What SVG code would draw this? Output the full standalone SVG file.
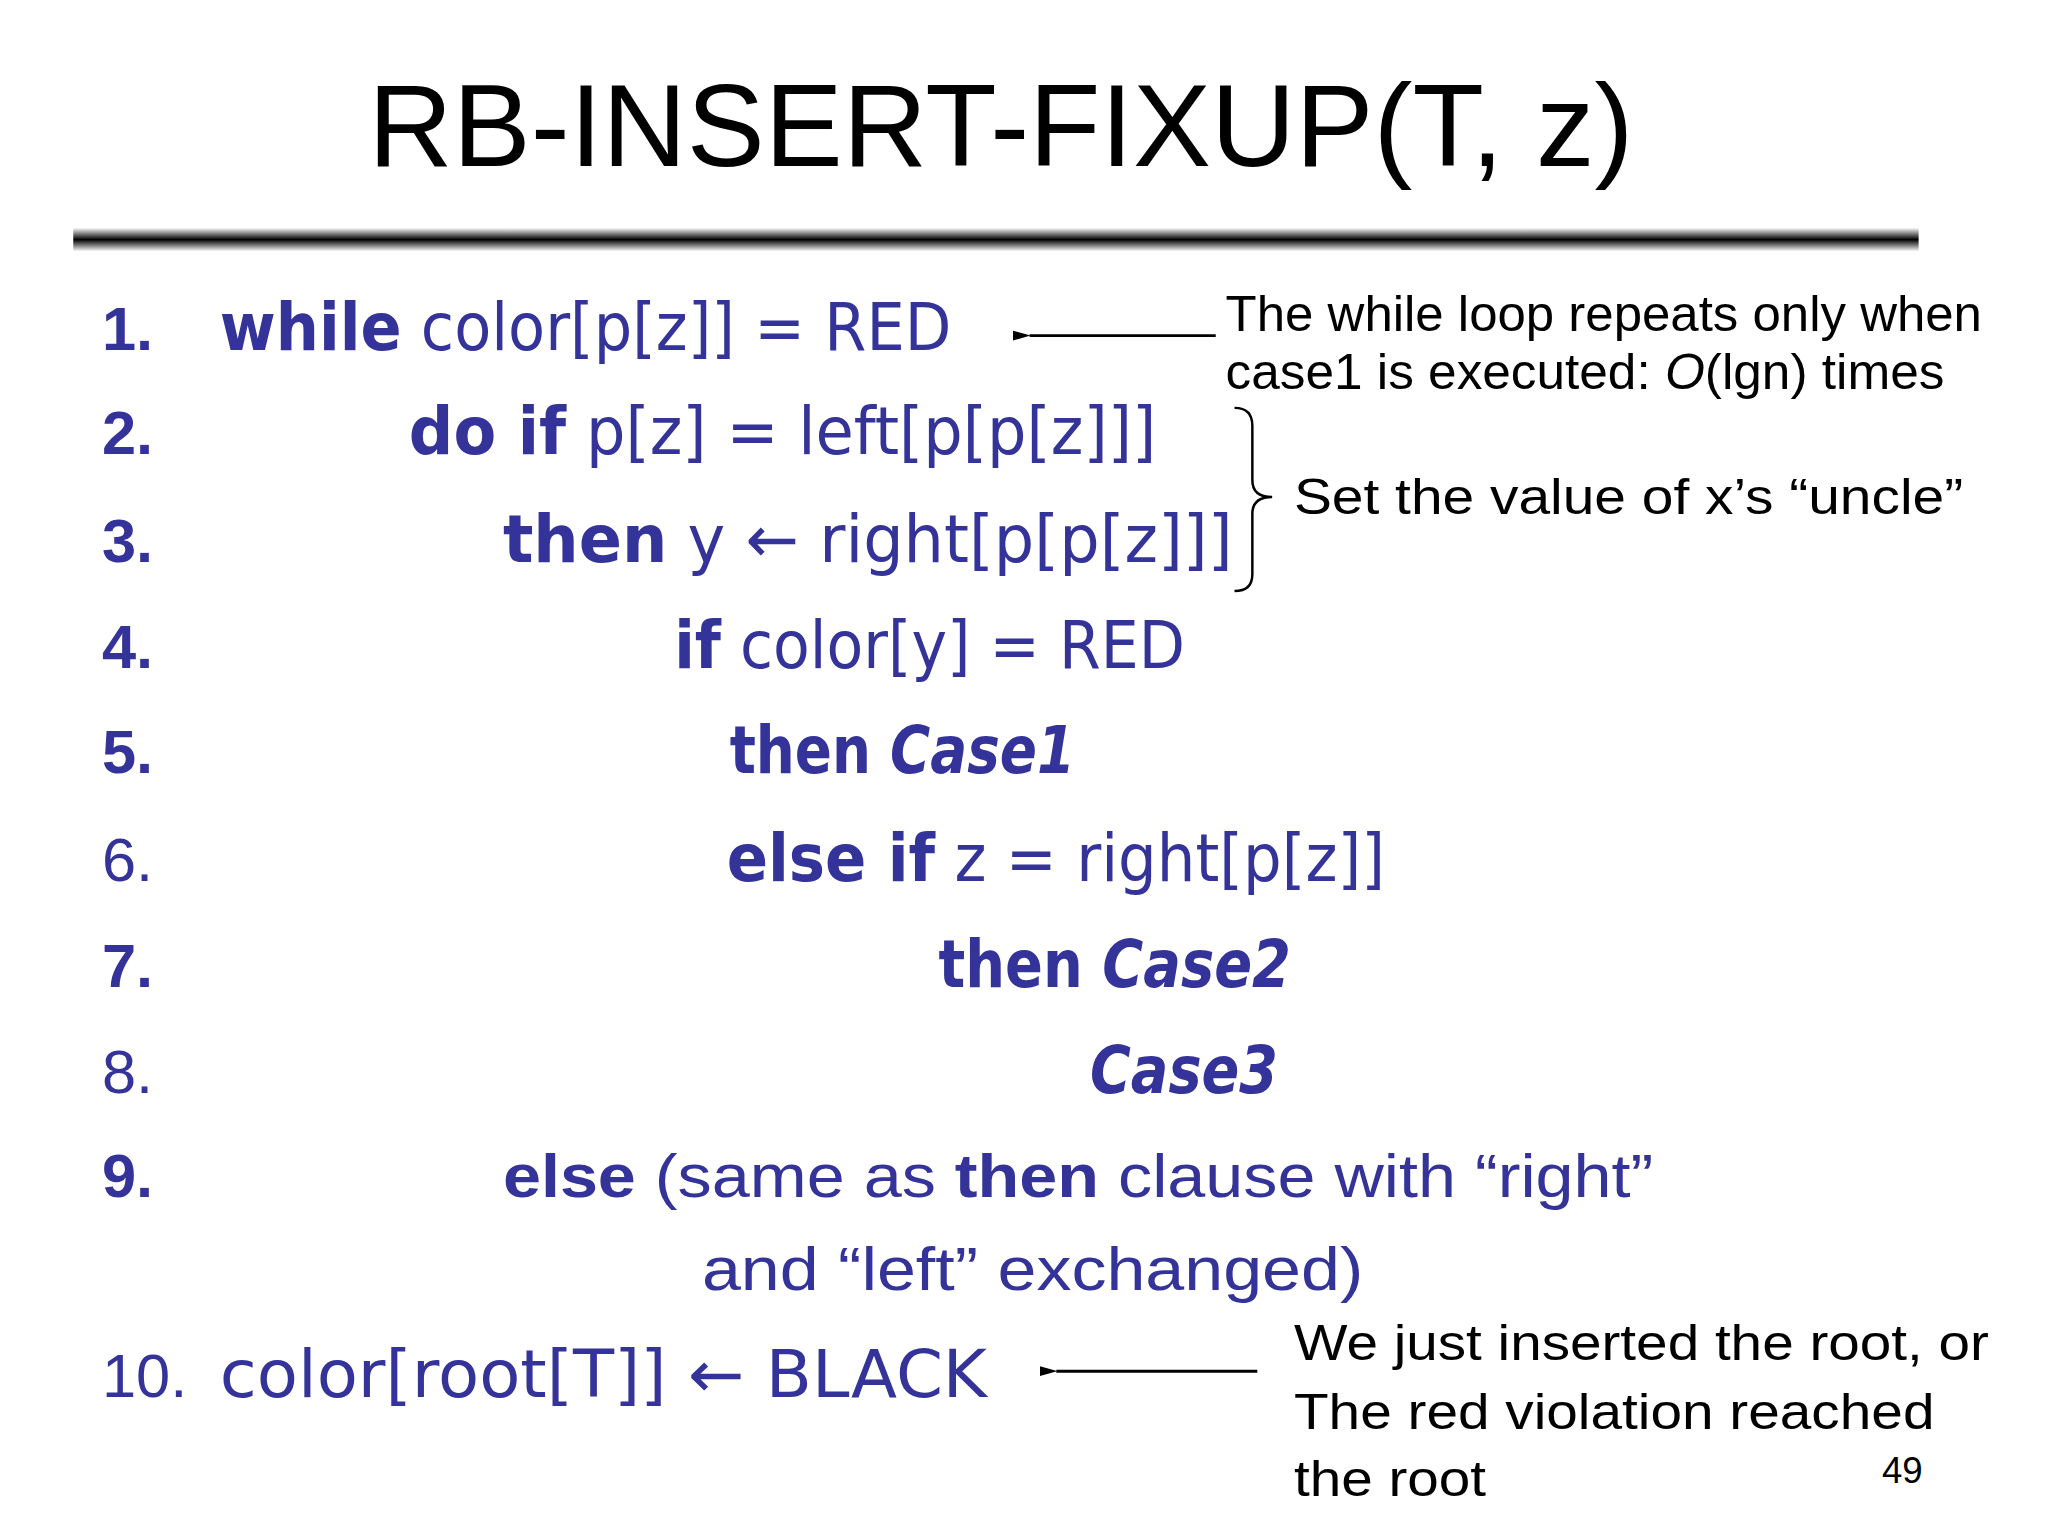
<svg xmlns="http://www.w3.org/2000/svg" width="2048" height="1536" viewBox="0 0 2048 1536">
<style>
.c{font-family:"DejaVu Sans","Liberation Sans",sans-serif;font-size:66px;fill:#333399}
.n{font-family:"Liberation Sans",sans-serif;font-size:62px;fill:#333399}
.b{font-weight:bold}
.i{font-style:italic}
.a{font-family:"Liberation Sans",sans-serif;font-size:50px;fill:#000}
</style>
<defs>
<linearGradient id="g" x1="0" y1="0" x2="0" y2="1">
<stop offset="0" stop-color="#fff"/><stop offset="0.5" stop-color="#000"/><stop offset="1" stop-color="#fff"/>
</linearGradient>
<marker id="ah" markerWidth="18" markerHeight="12" refX="1" refY="6" orient="auto-start-reverse" markerUnits="userSpaceOnUse">
<path d="M18,1 L0,6 L18,11 Z" fill="#000"/>
</marker>
</defs>
<rect width="2048" height="1536" fill="#fff"/>
<g transform="scale(0.99)">
<g id="title"><text x="372" y="168" font-family="Liberation Sans,sans-serif" font-size="118" textLength="1278" lengthAdjust="spacingAndGlyphs">RB-INSERT-FIXUP(T, z)</text></g>
<rect x="74" y="230" width="1864" height="24" fill="url(#g)"/>
<g id="numbers">
<text class="n b" x="103" y="354">1.</text>
<text class="n b" x="103" y="459">2.</text>
<text class="n b" x="103" y="568">3.</text>
<text class="n b" x="103" y="675">4.</text>
<text class="n b" x="103" y="781">5.</text>
<text class="n" x="103" y="890">6.</text>
<text class="n b" x="103" y="997">7.</text>
<text class="n" x="103" y="1104">8.</text>
<text class="n b" x="103" y="1209">9.</text>
<text class="n" x="103" y="1411">10.</text>
</g>
<g id="code">
<text class="c" x="222" y="354" textLength="739" lengthAdjust="spacingAndGlyphs"><tspan class="b">while</tspan> color[p[z]] = RED</text>
<text class="c" x="413" y="459" textLength="755" lengthAdjust="spacingAndGlyphs"><tspan class="b">do if</tspan> p[z] = left[p[p[z]]]</text>
<text class="c" x="508" y="568" textLength="737" lengthAdjust="spacingAndGlyphs"><tspan class="b">then</tspan> y ← right[p[p[z]]]</text>
<text class="c" x="681" y="675" textLength="516" lengthAdjust="spacingAndGlyphs"><tspan class="b">if</tspan> color[y] = RED</text>
<text class="c b" x="737" y="781" textLength="349" lengthAdjust="spacingAndGlyphs">then <tspan class="i">Case1</tspan></text>
<text class="c" x="734" y="890" textLength="665" lengthAdjust="spacingAndGlyphs"><tspan class="b">else if</tspan> z = right[p[z]]</text>
<text class="c b" x="948" y="997" textLength="356" lengthAdjust="spacingAndGlyphs">then <tspan class="i">Case2</tspan></text>
<text class="c b i" x="1101" y="1104" textLength="190" lengthAdjust="spacingAndGlyphs">Case3</text>
<text class="n" x="508" y="1209" textLength="1162" lengthAdjust="spacingAndGlyphs"><tspan class="b">else</tspan> (same as <tspan class="b">then</tspan> clause with “right”</text>
<text class="n" x="709" y="1303" textLength="668" lengthAdjust="spacingAndGlyphs">and “left”  exchanged)</text>
<text class="c" x="222" y="1411" textLength="775" lengthAdjust="spacingAndGlyphs">color[root[T]] ← BLACK</text>
</g>
<g id="connectors" stroke="#000" stroke-width="3" fill="none">
<line x1="1228" y1="339" x2="1040" y2="339" marker-end="url(#ah)"/>
<line x1="1270" y1="1385" x2="1067" y2="1385" marker-end="url(#ah)"/>
<path d="M1247,412 Q1265,412 1265,430 L1265,485 Q1265,502 1285,502 Q1265,502 1265,519 L1265,580 Q1265,597 1247,597" stroke-width="2.5"/>
</g>
<g id="annotations">
<text class="a" x="1238" y="334" textLength="764" lengthAdjust="spacingAndGlyphs">The while loop repeats only when</text>
<text class="a" x="1238" y="393" textLength="726" lengthAdjust="spacingAndGlyphs">case1 is executed: <tspan font-style="italic">O</tspan>(lgn) times</text>
<text class="a" x="1307" y="519" textLength="676" lengthAdjust="spacingAndGlyphs">Set the value of x’s “uncle”</text>
<text class="a" x="1307" y="1374" textLength="702" lengthAdjust="spacingAndGlyphs">We just inserted the root, or</text>
<text class="a" x="1307" y="1443" textLength="647" lengthAdjust="spacingAndGlyphs">The red violation reached</text>
<text class="a" x="1307" y="1511" textLength="194" lengthAdjust="spacingAndGlyphs">the root</text>
<text x="1901" y="1498" font-family="Liberation Sans,sans-serif" font-size="37">49</text>
</g>
</g>
</svg>
